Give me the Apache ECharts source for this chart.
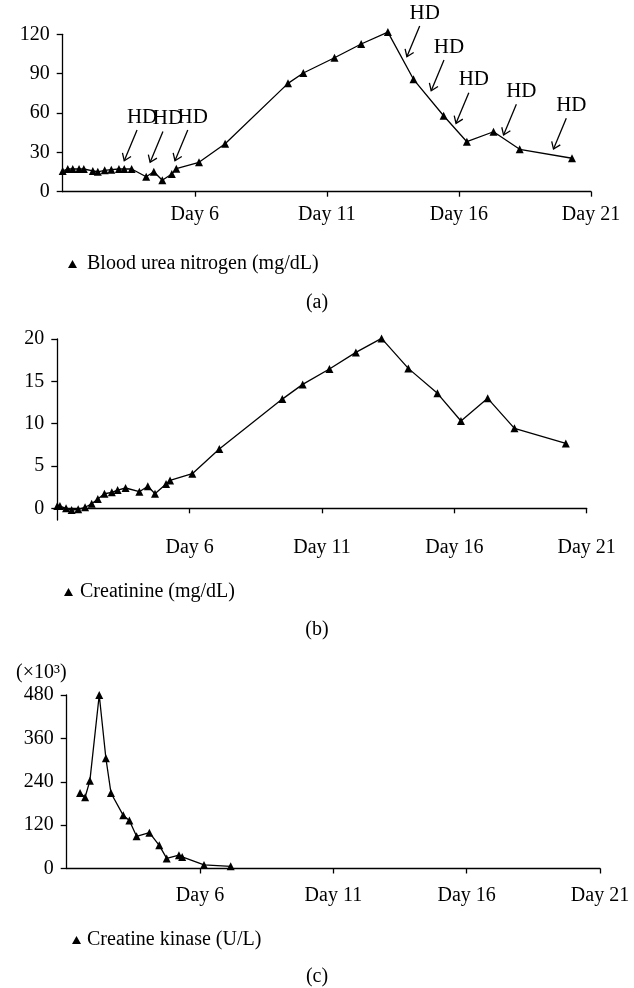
<!DOCTYPE html>
<html>
<head>
    <meta charset="utf-8">
    <title>BUN / Creatinine / CK</title>
    <script src="https://cdn.jsdelivr.net/npm/echarts@6.0.0/dist/echarts.min.js"></script>
    <style>
        body { margin: 0; background: #fff; }
        #chart { width: 634px; height: 988px; }
    </style>
</head>
<body>
<div id="chart"></div>

<script type="text/javascript">
    // (a) blood urea nitrogen, mg/dL
    var bunDays = [1.0, 1.19, 1.38, 1.62, 1.80, 2.14, 2.33, 2.59, 2.84, 3.13, 3.33, 3.61, 4.16, 4.45, 4.77,
        5.13, 5.30, 6.16, 7.15, 9.53, 10.11, 11.29, 12.30, 13.31, 14.28, 15.42, 16.30, 17.31, 18.30, 20.28];
    var bunValues = [15.8, 17.3, 17.3, 17.3, 17.3, 15.8, 15.2, 16.3, 16.8, 17.3, 17.3, 17.3, 11.4, 15.2, 8.7,
        13.5, 17.5, 22.4, 36.6, 82.6, 90.5, 102.1, 112.6, 121.7, 85.7, 57.9, 38.1, 45.7, 32.3, 25.5];
    // HD arrows: where each arrow points
    var hdDays = [3.33, 4.31, 5.25, 14.03, 14.95, 15.89, 17.69, 19.58];
    var hdValues = [23.6, 22.4, 23.6, 102.9, 77.0, 52.1, 43.2, 32.5];

    // (b) creatinine, mg/dL
    var creDays = [1.0, 1.10, 1.33, 1.54, 1.79, 2.05, 2.30, 2.53, 2.78, 3.06, 3.28, 3.58, 4.10, 4.42, 4.69,
        5.11, 5.26, 6.10, 7.12, 9.50, 10.27, 11.28, 12.28, 13.25, 14.26, 15.36, 16.25, 17.26, 18.27, 20.21];
    var creValues = [0.27, 0.27, 0.0, -0.2, -0.12, 0.12, 0.54, 1.10, 1.72, 1.89, 2.16, 2.40, 1.96, 2.60, 1.72,
        2.87, 3.30, 4.09, 7.0, 12.9, 14.64, 16.45, 18.42, 20.07, 16.53, 13.58, 10.31, 12.99, 9.45, 7.67];

    // (c) creatine kinase, x10^3 U/L
    var ckDays = [1.50, 1.69, 1.87, 2.22, 2.47, 2.66, 3.12, 3.35, 3.62, 4.10, 4.47, 4.75, 5.21, 5.33, 6.15, 7.15];
    var ckValues = [209, 197, 243, 480, 305, 209, 147, 133, 89, 99, 64, 28, 37, 32, 10, 6];

    var dayTicks = [6, 11, 16, 21];
    var bunTicks = [0, 30, 60, 90, 120];
    var creTicks = [0, 5, 10, 15, 20];
    var ckTicks = [0, 120, 240, 360, 480];

    var FONT = '"Liberation Serif", "DejaVu Serif", serif';

    function pairs(xs, ys) {
        var out = [];
        for (var i = 0; i < xs.length; i++) out.push([xs[i], ys[i]]);
        return out;
    }

    function xAxisFor(grid, margin) {
        return {
            type: 'value', gridIndex: grid, min: 1, max: 21,
            axisLine: { lineStyle: { color: '#000', width: 1.3 } },
            axisTick: { show: true, customValues: dayTicks, length: 5, lineStyle: { color: '#000', width: 1.3 } },
            axisLabel: {
                customValues: dayTicks, margin: margin, color: '#000',
                fontFamily: FONT, fontSize: 20,
                formatter: function (v) { return 'Day ' + v; }
            },
            splitLine: { show: false }
        };
    }

    function yAxisFor(grid, min, max, ticks, extra) {
        var ax = {
            type: 'value', gridIndex: grid, min: min, max: max,
            axisLine: { show: true, lineStyle: { color: '#000', width: 1.3 } },
            axisTick: { show: true, customValues: ticks, length: 6, lineStyle: { color: '#000', width: 1.3 } },
            axisLabel: { customValues: ticks, margin: 13, color: '#000', fontFamily: FONT, fontSize: 20 },
            splitLine: { show: false }
        };
        for (var k in extra) ax[k] = extra[k];
        return ax;
    }

    function lineSeries(name, grid, data) {
        return {
            name: name, type: 'line', xAxisIndex: grid, yAxisIndex: grid,
            data: data, symbol: 'triangle', symbolSize: 8, clip: false,
            itemStyle: { color: '#000' },
            lineStyle: { color: '#000', width: 1.3 },
            animation: false
        };
    }

    function legendFor(name, left, top, gap) {
        return {
            data: [name], left: left, top: top, icon: 'triangle',
            itemWidth: 9, itemHeight: 8, selectedMode: false,
            textStyle: { color: '#000', fontFamily: FONT, fontSize: 20, padding: [0, 0, 0, gap] }
        };
    }

    function panelTitle(text, top) {
        return {
            text: text, left: 317, top: top, textAlign: 'center', padding: 0,
            textStyle: { color: '#000', fontFamily: FONT, fontSize: 20, fontWeight: 'normal' }
        };
    }

    // open-headed arrow with "HD" text above it
    function renderHd(params, api) {
        var tip = api.coord([api.value(0), api.value(1)]);
        var tail = [tip[0] + 12.8, tip[1] - 30.7];
        var ang = Math.atan2(tail[1] - tip[1], tail[0] - tip[0]);
        var a1 = ang - 0.62, a2 = ang + 0.62, len = 8;
        var stroke = { stroke: '#000', lineWidth: 1.3, fill: null };
        return {
            type: 'group',
            children: [
                { type: 'polyline', shape: { points: [tail, tip] }, style: stroke },
                {
                    type: 'polyline',
                    shape: { points: [
                        [tip[0] + len * Math.cos(a1), tip[1] + len * Math.sin(a1)],
                        tip,
                        [tip[0] + len * Math.cos(a2), tip[1] + len * Math.sin(a2)]
                    ] },
                    style: stroke
                },
                {
                    type: 'text',
                    style: {
                        text: 'HD', x: tail[0] + 5, y: tail[1] - 13,
                        align: 'center', verticalAlign: 'middle',
                        fontFamily: FONT, fontSize: 21, fill: '#000'
                    }
                }
            ]
        };
    }

    var chart = echarts.init(document.getElementById('chart'), null, { renderer: 'canvas' });
    chart.setOption({
        animation: false,
        backgroundColor: '#fff',
        title: [panelTitle('(a)', 293), panelTitle('(b)', 620), panelTitle('(c)', 967)],
        legend: [
            legendFor('Blood urea nitrogen (mg/dL)', 63, 249, 5),
            legendFor('Creatinine (mg/dL)', 59, 577, 2),
            legendFor('Creatine kinase (U/L)', 67, 925, 1)
        ],
        grid: [
            { left: 62.7, right: 43, top: 34.3, height: 157.4 },
            { left: 57.3, right: 47.3, top: 339, height: 181 },
            { left: 66.7, right: 34, top: 695, height: 173.5 }
        ],
        xAxis: [xAxisFor(0, 13), xAxisFor(1, 18), xAxisFor(2, 17)],
        yAxis: [
            yAxisFor(0, 0, 120, bunTicks, {}),
            yAxisFor(1, -1.38, 20, creTicks, {}),
            yAxisFor(2, 0, 480, ckTicks, {
                name: '(\u00d710\u00b3)', nameLocation: 'end', nameGap: 12,
                nameTextStyle: { color: '#000', fontFamily: FONT, fontSize: 20, align: 'right' }
            })
        ],
        series: [
            lineSeries('Blood urea nitrogen (mg/dL)', 0, pairs(bunDays, bunValues)),
            lineSeries('Creatinine (mg/dL)', 1, pairs(creDays, creValues)),
            lineSeries('Creatine kinase (U/L)', 2, pairs(ckDays, ckValues)),
            {
                type: 'custom', xAxisIndex: 0, yAxisIndex: 0, clip: false, silent: true,
                data: pairs(hdDays, hdValues), renderItem: renderHd,
                encode: { x: 0, y: 1 }
            }
        ]
    });
</script>
</body>
</html>
